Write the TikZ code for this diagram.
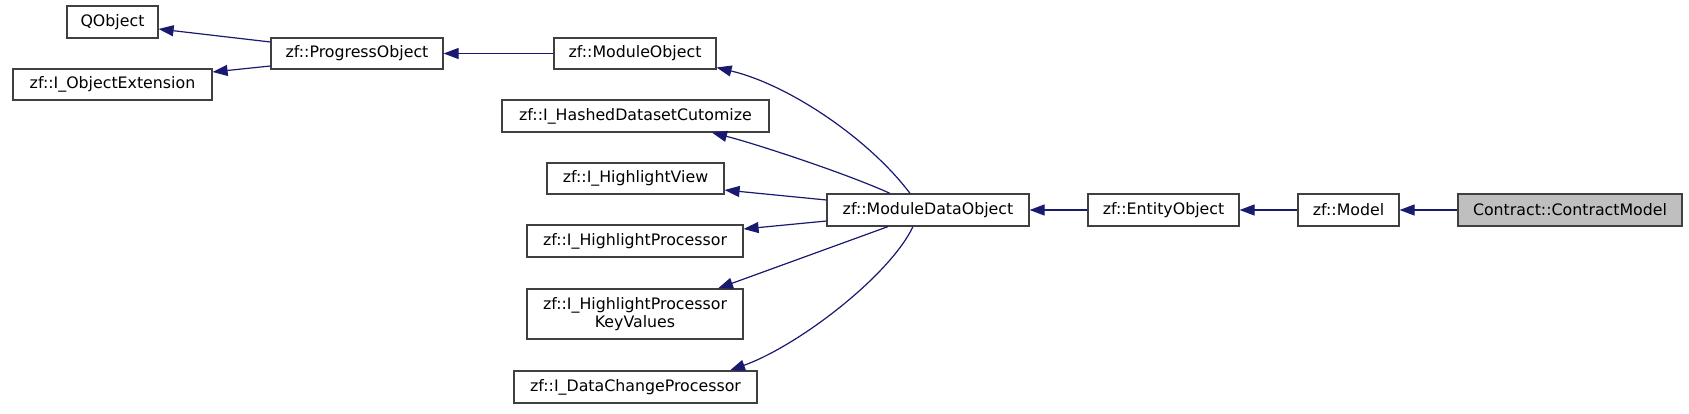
\documentclass[tikz,border=0pt]{standalone}
\usepackage{fontspec}
\setmainfont{DejaVu Sans}
\usetikzlibrary{arrows.meta}
\definecolor{edgeblue}{HTML}{191970}
\definecolor{boxgray}{HTML}{BFBFBF}
\begin{document}
\begin{tikzpicture}[x=1pt,y=-1pt,
  box/.style={draw=black!75, line width=1.2pt, fill=white, inner sep=0pt, align=center,
    font=\fontsize{15.8}{18}\selectfont},
  edge/.style={draw=edgeblue, line width=1.2pt, -{Triangle[length=15pt,width=11pt]}, fill=none}]
\useasboundingbox (0,0) rectangle (1689,414);
\node[box, minimum width=91pt, minimum height=32pt] (qo) at (112.5,22) {QObject};
\node[box, minimum width=199pt, minimum height=31pt] (oe) at (112.5,84.5) {zf::I\_ObjectExtension};
\node[box, minimum width=172pt, minimum height=31pt] (po) at (357,53.5) {zf::ProgressObject};
\node[box, minimum width=162pt, minimum height=31pt] (mo) at (635,53.5) {zf::ModuleObject};
\node[box, minimum width=267pt, minimum height=32pt] (hd) at (635.5,116) {zf::I\_HashedDatasetCutomize};
\node[box, minimum width=177pt, minimum height=31pt] (hv) at (635.5,178.5) {zf::I\_HighlightView};
\node[box, minimum width=216pt, minimum height=32pt] (hp) at (635,241) {zf::I\_HighlightProcessor};
\node[box, minimum width=216pt, minimum height=50pt] (kv) at (635,314) {zf::I\_HighlightProcessor\\KeyValues};
\node[box, minimum width=243pt, minimum height=32pt] (dc) at (635.5,387) {zf::I\_DataChangeProcessor};
\node[box, minimum width=202pt, minimum height=32pt] (md) at (928,210) {zf::ModuleDataObject};
\node[box, minimum width=151pt, minimum height=32pt] (eo) at (1163.5,210) {zf::EntityObject};
\node[box, minimum width=101pt, minimum height=32pt] (ml) at (1348.5,210) {zf::Model};
\node[box, fill=boxgray, minimum width=224pt, minimum height=32pt] (cm) at (1570,210) {Contract::ContractModel};

\draw[edge] ([yshift=11.5pt]po.west) -- ([yshift=-7pt]qo.east);
\draw[edge] ([yshift=-12.5pt]po.west) -- ([yshift=12.5pt]oe.east);
\draw[edge] (mo.west) -- (po.east);
\draw[edge] ([xshift=-18pt]md.north) .. controls (870,140) and (790,85) .. ([yshift=-14pt]mo.east);
\draw[edge] ([xshift=-38pt]md.north) .. controls (850,175) and (760,145) .. ([xshift=76.5pt]hd.south);
\draw[edge] ([yshift=10pt]md.west) -- ([yshift=-11.5pt]hv.east);
\draw[edge] ([yshift=-11pt]md.west) -- ([yshift=12pt]hp.east);
\draw[edge] ([xshift=-40pt]md.south) -- ([xshift=83pt]kv.north);
\draw[edge] ([xshift=-15pt]md.south) .. controls (890,275) and (800,345) .. ([xshift=94.5pt]dc.north);
\draw[edge] (eo.west) -- (md.east);
\draw[edge] (ml.west) -- (eo.east);
\draw[edge] (cm.west) -- (ml.east);
\end{tikzpicture}
\end{document}
